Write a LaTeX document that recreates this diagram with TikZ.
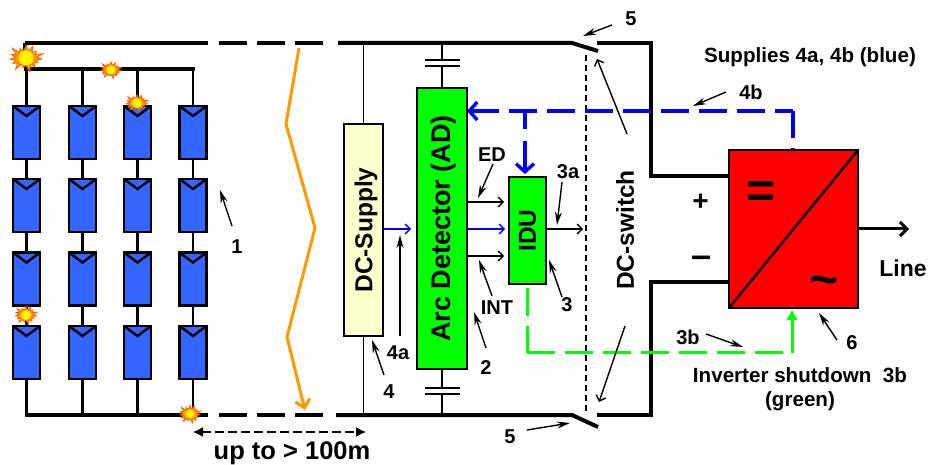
\documentclass[tikz,border=0pt]{standalone}
\usepackage{fontspec}
\setmainfont{Liberation Sans}
\usetikzlibrary{arrows.meta, shapes.symbols}
\definecolor{panelblue}{HTML}{3366FF}
\definecolor{supplycream}{HTML}{FFFFCC}
\definecolor{wireorange}{HTML}{FF9900}

\begin{document}
\begin{tikzpicture}[x=1pt,y=-1pt,
    panel/.style={draw, line width=2.4pt, fill=panelblue, minimum width=27pt, minimum height=53pt, inner sep=0pt, outer sep=0pt},
    block/.style={draw, line width=2.2pt, inner sep=0pt, outer sep=0pt, font=\fontsize{24.5}{26}\selectfont\bfseries},
    bus/.style={line width=4pt},
    wire/.style={line width=2.4pt},
    thinwire/.style={line width=1.5pt},
    lbl/.style={inner sep=0pt, font=\fontsize{20}{22}\selectfont\bfseries},
    note/.style={line width=1.4pt, -{Stealth[length=13pt,width=7pt]}},
    signal/.style={line width=1.4pt, -{Straight Barb[length=5pt,width=10pt]}},
    spark/.style={starburst, starburst points=15, fill=wireorange, draw=orange!70!red, line width=0.7pt, inner sep=2pt},
    sparkcore/.style={circle, fill=yellow, inner sep=0pt},
    supply/.style={line width=3.4pt, blue},
    shutdown/.style={line width=3pt, green}
  ]
  \useasboundingbox (0,0) rectangle (930,465);

  % bus ends
  \coordinate (topa) at (25,43);
  \coordinate (topb) at (208,43);
  \coordinate (topc) at (219,43);
  \coordinate (topd) at (323,43);
  \coordinate (tope) at (338,43);
  \coordinate (topf) at (572,43);
  \coordinate (topg) at (598,51);
  \coordinate (toph) at (597,43);
  \coordinate (topi) at (651,43);
  \coordinate (topj) at (651,176);
  \coordinate (bota) at (25,415);
  \coordinate (botb) at (208,415);
  \coordinate (botc) at (219,415);
  \coordinate (botd) at (323,415);
  \coordinate (bote) at (336,415);
  \coordinate (botf) at (572,415);
  \coordinate (botg) at (598,427);
  \coordinate (both) at (597,415);
  \coordinate (boti) at (651,415);
  \coordinate (botj) at (651,282);
  \coordinate (stringbus) at (193,69);
  \coordinate (stringa) at (26,69);

  % strings
  \foreach \col/\px in {1/26.5, 2/82.5, 3/137.5, 4/193} {
    \foreach \row/\py in {1/132.5, 2/205.5, 3/279, 4/352.5} {
      \node[panel] (p\col\row) at (\px,\py) {};
      \draw[wire] (p\col\row.north west) -- ([yshift=-10pt]p\col\row.north) -- (p\col\row.north east);
    }
    \coordinate (s\col) at (\px,69);
    \coordinate (b\col) at (\px,415);
    \draw[wire] (s\col) -- (p\col1);
    \draw[wire] (p\col1) -- (p\col2);
    \draw[wire] (p\col2) -- (p\col3);
    \draw[wire] (p\col3) -- (p\col4);
    \draw[wire] (p\col4) -- (b\col);
  }

  % main lines
  \draw[bus, line cap=rect] (stringa) -- (stringbus);
  \draw[bus] (topa) -- (topb);
  \draw[bus] (topa) -- (stringa);
  \draw[bus, dash pattern=on 28pt off 10pt] (topc) -- (topd);
  \draw[bus] (tope) -- (topf) -- (topg);
  \draw[bus] (bota) -- (botb);
  \draw[bus, dash pattern=on 28pt off 10pt] (botc) -- (botd);
  \draw[bus] (bote) -- (botf) -- (botg);

  % blocks
  \node[block, fill=supplycream, minimum width=39pt, minimum height=212pt] (dcsupply) at (363.5,230) {\hspace{5pt}\rotatebox{90}{DC-Supply}};
  \node[block, fill=green, minimum width=50pt, minimum height=281pt, font=\fontsize{27}{29}\selectfont\bfseries] (detector) at (442,228.5) {\hspace{4pt}\rotatebox{90}{Arc Detector (AD)}};
  \node[block, fill=green, minimum width=37pt, minimum height=107pt] (idu) at (527.5,230.5) {\rotatebox{90}{IDU}};
  \node[draw, line width=2.2pt, fill=red, minimum width=129pt, minimum height=158pt, inner sep=0pt, outer sep=0pt] (inverter) at (793.5,229) {};
  \draw[wire] (inverter.south west) -- (inverter.north east);
  \node[inner sep=0pt, font=\fontsize{50}{50}\selectfont\bfseries] (dcmark) at (761.5,195) {=};
  \node[inner sep=0pt, font=\fontsize{50}{50}\selectfont\bfseries] (acmark) at (824,286) {\textasciitilde};

  \draw[bus, line join=miter] (toph) -- (topi) -- (topj) -- (inverter.west |- topj);
  \draw[bus, line join=miter] (both) -- (boti) -- (botj) -- (inverter.west |- botj);

  % supply lines and capacitors
  \coordinate (capta) at (442,60);
  \coordinate (captb) at (442,66);
  \coordinate (capba) at (442,388);
  \coordinate (capbb) at (442,394);
  \draw[thinwire] (dcsupply.north |- topa) -- (dcsupply.north);
  \draw[thinwire] (dcsupply.south) -- (dcsupply.south |- bota);
  \draw[thinwire] (capta |- topa) -- (capta);
  \draw[thinwire] (captb) -- (detector.north);
  \draw[thinwire] (detector.south) -- (capba);
  \draw[thinwire] (capbb) -- (capbb |- bota);
  \foreach \cap in {capta, captb, capba, capbb} {
    \draw[line width=2.8pt] ([xshift=-17.5pt]\cap) -- ([xshift=17.5pt]\cap);
  }

  % switch link
  \coordinate (linka) at (586,55);
  \coordinate (linkb) at (586,413);
  \draw[line width=1.2pt, dash pattern=on 6pt off 4pt] (linka) -- (linkb);

  % signals
  \coordinate (edend) at (504,202);
  \coordinate (intend) at (504,256);
  \coordinate (blueend) at (505,229);
  \coordinate (adin) at (411,229);
  \coordinate (out3a) at (583,229);
  \draw[signal] (detector.east |- edend) -- (edend);
  \draw[signal, blue] (detector.east |- blueend) -- (blueend);
  \draw[signal] (detector.east |- intend) -- (intend);
  \draw[signal, blue] (dcsupply.east |- adin) -- (adin);
  \draw[signal] (idu.east |- out3a) -- (out3a);

  % blue 4b line
  \coordinate (bluecorner) at (793,111);
  \coordinate (bluebranch) at (525,111);
  \draw[supply, dash pattern=on 28pt off 10pt, {Straight Barb[length=8pt,width=18pt]}-] (detector.east |- bluecorner) -- (bluecorner);
  \draw[supply, dash pattern=on 27pt off 10pt] (bluecorner) -- (bluecorner |- inverter.north);
  \draw[supply, dash pattern=on 18pt off 12pt on 50pt, -{Straight Barb[length=8pt,width=18pt]}] (bluebranch) -- ([yshift=3pt]bluebranch |- idu.north);

  % green 3b line
  \coordinate (greenstart) at (527,288);
  \coordinate (greencorner) at (527,353);
  \coordinate (greenend) at (783,353);
  \coordinate (greenup) at (792,353);
  \draw[shutdown, dash pattern=on 28pt off 10pt] (greenstart) -- (greencorner);
  \draw[shutdown, dash pattern=on 27.5pt off 10.5pt] (greencorner) -- (greenend);
  \draw[shutdown, -{Triangle[length=10pt,width=10pt]}] (greenup) -- ([yshift=-2pt]greenup |- inverter.south);

  % distance and orange wave
  \coordinate (wavea) at (299,48);
  \coordinate (waveb) at (286,124);
  \coordinate (wavec) at (315,228);
  \coordinate (waved) at (287,337);
  \coordinate (wavee) at (305,410);
  \draw[line width=3pt, wireorange, line join=miter, -{Straight Barb[length=8pt,width=15pt]}] (wavea) -- (waveb) -- (wavec) -- (waved) -- (wavee);
  \coordinate (dista) at (193,432);
  \coordinate (distb) at (366,432);
  \draw[line width=1.2pt, dash pattern=on 9pt off 4pt, {Latex[length=10pt,width=10pt]}-{Latex[length=10pt,width=10pt]}] (dista) -- (distb);
  \node[lbl, font=\fontsize{25.5}{27}\selectfont\bfseries] (distlbl) at (292,453) {up to > 100m};

  % sparks
  \foreach \name/\px/\py/\sw/\sh/\ph/\core in {a/26/58/38/30/8/15, b/111/70/24/19/5/9, c/137/103/25/19/5/10, d/26/315/25/20/5/10, e/190/414/24/20/5/9} {
    \node[spark, starburst point height=\ph pt, minimum width=\sw pt, minimum height=\sh pt] (spark\name) at (\px,\py) {};
    \node[sparkcore, minimum size=\core pt] at (spark\name) {};
  }

  % labels
  \node[lbl] (n1) at (237,247) {1};
  \node[lbl] (n2) at (486,368) {2};
  \node[lbl] (n3) at (567,305) {3};
  \node[lbl] (n3a) at (568,172) {3a};
  \node[lbl] (n3b) at (688,337) {3b};
  \node[lbl] (n4) at (389,392) {4};
  \node[lbl] (n4a) at (398,353) {4a};
  \node[lbl] (n4b) at (751,92) {4b};
  \node[lbl] (n5t) at (631,19) {5};
  \node[lbl] (n5b) at (510,437) {5};
  \node[lbl] (n6) at (852,343) {6};
  \node[lbl] (ned) at (492,155) {ED};
  \node[lbl] (nint) at (497,308) {INT};
  \node[lbl, font=\fontsize{20.6}{22}\selectfont\bfseries] (supplies) at (810,57) {Supplies 4a, 4b (blue)};
  \node[lbl, font=\fontsize{20.6}{24}\selectfont\bfseries, align=center] (shut) at (800,389.5) {Inverter shutdown\ \ 3b\\(green)};
  \node[lbl, font=\fontsize{23}{25}\selectfont\bfseries] (linelbl) at (903,268) {Line};
  \node[lbl, font=\fontsize{24.5}{26}\selectfont\bfseries] (swlbl) at (625,230) {\rotatebox{90}{DC-switch}};
  \node[lbl, font=\fontsize{28}{30}\selectfont\bfseries] (plus) at (700.5,202) {+};
  \node[lbl, font=\fontsize{36}{38}\selectfont\bfseries] (minus) at (702,262) {–};

  % out
  \coordinate (lineout) at (909,229);
  \draw[line width=3pt, -{Straight Barb[length=7pt,width=14pt]}] (inverter.east |- lineout) -- (lineout);

  % pointers
  \coordinate (t1) at (220,190);
  \coordinate (t2) at (474,312);
  \coordinate (t3) at (549,260);
  \coordinate (t3a) at (557,225);
  \coordinate (t3b) at (743,347);
  \coordinate (t4) at (372,340);
  \coordinate (t4a) at (400,235);
  \coordinate (t4b) at (693,106);
  \coordinate (t5t) at (583,36);
  \coordinate (t5b) at (570,423);
  \coordinate (t6) at (819,313);
  \coordinate (ted) at (478,198);
  \coordinate (tint) at (479,260);
  \coordinate (s1) at (232,226);
  \coordinate (s2) at (486,348);
  \coordinate (s3) at (562,297);
  \coordinate (s3a) at (562,182);
  \coordinate (s3b) at (706,334);
  \coordinate (s4) at (384,375);
  \coordinate (s4a) at (400,336);
  \coordinate (s4b) at (726,92);
  \coordinate (s5t) at (612,25);
  \coordinate (s5b) at (527,430);
  \coordinate (s6) at (837,340);
  \coordinate (sed) at (493,164);
  \coordinate (sint) at (492,296);
  \foreach \p in {1,2,3,3a,3b,4,4a,4b,5t,5b,6,ed,int} {
    \draw[note] (s\p) -- (t\p);
  }
  \coordinate (swsa) at (627,134);
  \coordinate (swta) at (597,59);
  \coordinate (swsb) at (625,326);
  \coordinate (swtb) at (599,402);
  \draw[signal] (swsa) -- (swta);
  \draw[signal] (swsb) -- (swtb);
\end{tikzpicture}
\end{document}
